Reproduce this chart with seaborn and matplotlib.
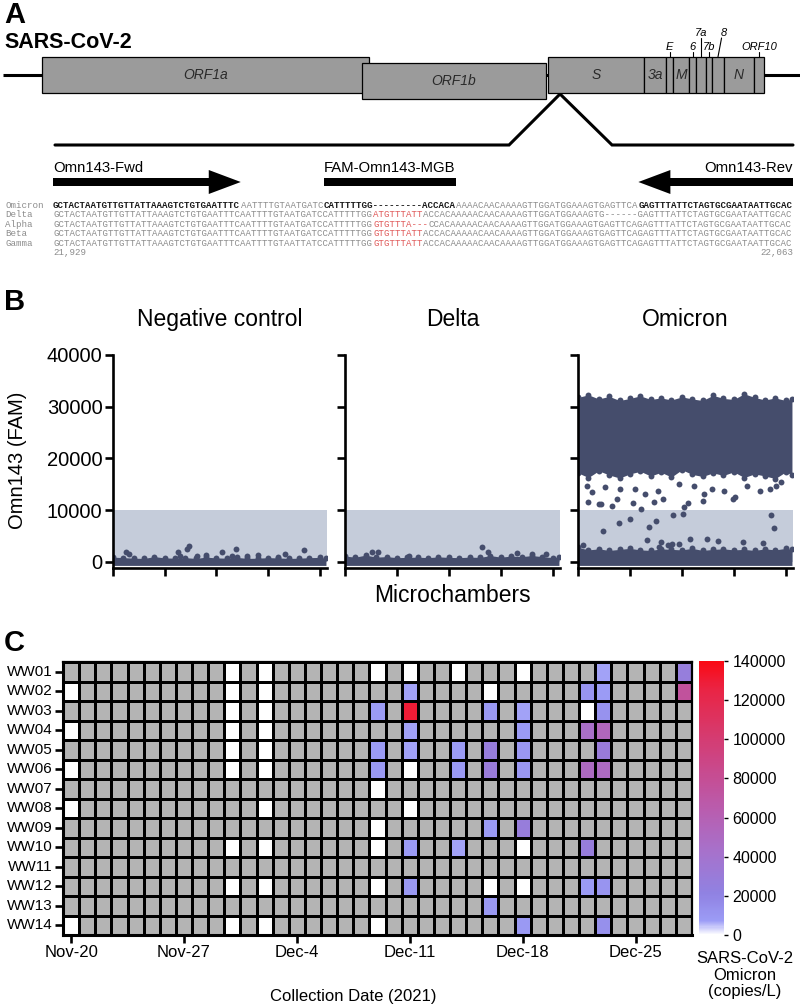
import numpy as np
import pandas as pd
import matplotlib
matplotlib.use("Agg")
import matplotlib.pyplot as plt
import seaborn as sns
from matplotlib.colors import LinearSegmentedColormap
from matplotlib.patches import Rectangle

# ---------------- A: genome map (schematic positions, nt) ----------------
GENOME_LEN = 29903
gene_names = ["ORF1a", "ORF1b", "S", "3a", "E", "M", "6", "7a", "7b", "8", "N", "ORF10"]
gene_start = [1460, 13470, 20450, 24050, 24880, 25140, 25740, 26000, 26380, 26600, 27050, 28180]
gene_end = [13730, 20370, 24050, 24880, 25140, 25740, 26000, 26380, 26600, 27050, 28180, 28550]
amplicon_map_pos = 20900
amplicon_first, amplicon_last = "21,929", "22,063"

# alignment segments: b = primer/probe (bold), g = grey, r = mismatch (red)
seq_names = ["Omicron", "Delta", "Alpha", "Beta", "Gamma"]
seq_omicron = [("GCTACTAATGTTGTTATTAAAGTCTGTGAATTTC", "b"), ("AATTTTGTAATGATC", "g"),
               ("CATTTTTGG---------ACCACA", "b"), ("AAAACAACAAAAGTTGGATGGAAAGTGAGTTCA", "g"),
               ("GAGTTTATTCTAGTGCGAATAATTGCAC", "b")]
seq_delta = [("GCTACTAATGTTGTTATTAAAGTCTGTGAATTTCAATTTTGTAATGATCCATTTTTGG", "g"), ("ATGTTTATT", "r"),
             ("ACCACAAAAACAACAAAAGTTGGATGGAAAGTG------GAGTTTATTCTAGTGCGAATAATTGCAC", "g")]
seq_alpha = [("GCTACTAATGTTGTTATTAAAGTCTGTGAATTTCAATTTTGTAATGATCCATTTTTGG", "g"), ("GTGTTTA---", "r"),
             ("CCACAAAAACAACAAAAGTTGGATGGAAAGTGAGTTCAGAGTTTATTCTAGTGCGAATAATTGCAC", "g")]
seq_beta = [("GCTACTAATGTTGTTATTAAAGTCTGTGAATTTCAATTTTGTAATGATCCATTTTTGG", "g"), ("GTGTTTATT", "r"),
            ("ACCACAAAAACAACAAAAGTTGGATGGAAAGTGAGTTCAGAGTTTATTCTAGTGCGAATAATTGCAC", "g")]
seq_gamma = [("GCTACTAATGTTGTTATTAAAGTCTGTGAATTTCAATTTTGTAATTATCCATTTTTGG", "g"), ("GTGTTTATT", "r"),
             ("ACCACAAAAACAACAAAAGTTGGATGGAAAGTGAGTTCAGAGTTTATTCTAGTGCGAATAATTGCAC", "g")]
seqs = [seq_omicron, seq_delta, seq_alpha, seq_beta, seq_gamma]

primer_names = ["Omn143-Fwd", "FAM-Omn143-MGB", "Omn143-Rev"]
primer_start = [0, 49, 106]   # alignment column
primer_end = [34, 73, 134]
primer_dir = [1, 0, -1]

# ---------------- B: microchamber fluorescence ----------------
THRESHOLD = 10000
band_x = [0, 5, 10, 15, 20, 25, 30, 35, 40, 45, 50, 55, 60, 65, 70, 75, 80, 85, 90, 95, 100, 103]
neg_base_top = [900, 800, 700, 650, 1000, 750, 700, 800, 650, 900, 750, 700, 850, 650, 700, 800, 750, 650, 700, 800, 850, 700]
delta_base_top = [1100, 900, 1300, 900, 1000, 800, 850, 900, 800, 950, 850, 800, 900, 850, 1200, 900, 1100, 1000, 1200, 1000, 800, 900]
omi_base_top = [2800, 2300, 2500, 2200, 2400, 2600, 2300, 2200, 2500, 2400, 2300, 2600, 2200, 2400, 2500, 2300, 2400, 2200, 2500, 2300, 2600, 2400]
omi_band_top = [31800, 32300, 31500, 32000, 31200, 31600, 32100, 31400, 31700, 31300, 31900, 31500, 31200, 32200, 31600, 31400, 32500, 31800, 31300, 31700, 31200, 31500]
omi_band_bot = [17200, 16300, 17600, 16800, 16200, 17000, 17500, 16600, 17300, 16400, 17800, 16900, 16500, 17200, 16700, 17400, 16300, 17000, 16600, 16100, 17400, 16800]

neg_x = [6.3, 7.7, 31.4, 32.4, 35.7, 36.7, 40.6, 44.9, 52.7, 57.5, 59.4, 64.7, 70.0, 79.7, 83.1, 92.3]
neg_y = [1950, 1600, 1950, 1200, 2500, 3100, 1200, 1350, 1800, 1200, 2500, 1200, 1350, 1000, 1600, 2200]
delta_x = [13.0, 15.9, 31.0, 65.9, 68.8, 83.0, 90.0, 97.0]
delta_y = [1800, 1800, 1200, 2900, 1950, 1700, 1600, 1600]
omi_x = [4.8, 11.1, 16.3, 26.4, 30.3, 36.5, 51.0, 52.9, 60.1, 74.5, 19.7, 25.0, 12.0, 34.1, 37.5, 45.7,
         50.5, 92.8, 94.2, 33.2, 39.9, 53.8, 62.0, 67.3, 79.3, 88.9, 43.3, 45.2, 48.6, 38.9, 2.4,
         4.3, 6.7, 13.0, 20.2, 18.8, 27.4, 32.2, 38.5, 40.9, 48.6, 55.8, 60.6, 64.4, 70.2, 75.5,
         81.3, 87.5, 92.3, 95.2, 97.6, 10.1]
omi_y = [11570, 11200, 10800, 11400, 10200, 11600, 10600, 11400, 11800, 12100, 7450, 8200, 5900, 6650, 7850, 9000,
         9200, 9000, 6470, 4300, 3900, 4500, 4500, 4100, 3900, 3700, 3300, 3500, 3500, 2900, 3300,
         14700, 13500, 14500, 14100, 12200, 14100, 13100, 13700, 12200, 15100, 14700, 13100, 14100, 13700, 12500,
         14700, 13700, 14100, 14700, 15500, 11200]

# ---------------- C: Omicron in wastewater ----------------
wells = ["WW01", "WW02", "WW03", "WW04", "WW05", "WW06", "WW07",
         "WW08", "WW09", "WW10", "WW11", "WW12", "WW13", "WW14"]
dates = pd.date_range("2021-11-20", "2021-12-28")
tick_dates = ["Nov-20", "Nov-27", "Dec-4", "Dec-11", "Dec-18", "Dec-25"]
no_sample = {
    "WW01": [10, 12, 19, 21, 24, 28], "WW02": [0, 10, 12, 26], "WW03": [10, 12, 32],
    "WW04": [0, 10, 12], "WW05": [10, 12], "WW06": [0, 10, 12, 21], "WW07": [19],
    "WW08": [0, 12, 21], "WW09": [19], "WW10": [10, 12, 19, 28], "WW11": [],
    "WW12": [10, 12, 19, 26, 28], "WW13": [], "WW14": [0, 10, 12, 19],
}
omicron_copies = {
    "WW01": {33: 7000, 38: 27000},
    "WW02": {21: 7000, 32: 12000, 33: 8000, 38: 75000},
    "WW03": {19: 8000, 21: 130000, 26: 9000, 28: 7000, 33: 13000},
    "WW04": {21: 7000, 28: 8000, 32: 45000, 33: 55000},
    "WW05": {19: 8000, 21: 7000, 24: 8000, 26: 28000, 28: 10000, 33: 30000},
    "WW06": {19: 9000, 24: 9000, 26: 30000, 28: 10000, 32: 50000, 33: 50000},
    "WW09": {26: 8000, 28: 28000},
    "WW10": {21: 8000, 24: 7000, 32: 28000},
    "WW12": {21: 9000, 32: 8000, 33: 12000},
    "WW13": {26: 9000},
    "WW14": {28: 9000, 33: 14000},
}

# ---------------- styling ----------------
W, H = 800, 1006
DOT = "#454d6c"
SHADE = "#c5ccda"
BOX = "#9b9b9b"
ND_GREY = "#b4b4b4"
SEQ_GREY = "#8c8c8c"
SEQ_RED = "#e05a5a"
MONO = "Liberation Mono"

sns.set_theme(style="ticks")
plt.rcParams["font.family"] = ["Liberation Sans", "DejaVu Sans"]
plt.rcParams["text.color"] = "black"
plt.rcParams["axes.labelcolor"] = "black"
plt.rcParams["xtick.color"] = "black"
plt.rcParams["ytick.color"] = "black"


def box(x0, y0, x1, y1):
    return [x0 / W, 1 - y1 / H, (x1 - x0) / W, (y1 - y0) / H]


fig = plt.figure(figsize=(W / 100, H / 100), dpi=100)

def ftext(x, y, s, **kw):
    kw.setdefault("ha", "left")
    kw.setdefault("va", "center")
    fig.text(x / W, 1 - y / H, s, **kw)

# overlay in pixel units for panel A annotations
ov = fig.add_axes([0, 0, 1, 1])
ov.set_xlim(0, W)
ov.set_ylim(H, 0)
ov.axis("off")
ov.patch.set_alpha(0)

for letter, y in [("A", 15), ("B", 302), ("C", 643)]:
    ftext(4, y, letter, fontsize=21, fontweight="bold")
ftext(4, 42, "SARS-CoV-2", fontsize=15.5, fontweight="bold")

# ---- genome map ----
GX0, GX1 = 3, 800
gx = fig.add_axes(box(GX0, 20, GX1, 160))
gx.set_xlim(0, GENOME_LEN)
gx.set_ylim(160, 20)
gx.axis("off")
gx.patch.set_alpha(0)
gx.plot([0, GENOME_LEN], [75, 75], color="black", lw=2.2, zorder=0, solid_capstyle="butt")
inside = {"ORF1a", "ORF1b", "S", "3a", "M", "N"}
outside = {"E": (0, 0), "6": (0, 0), "7a": (1, 0), "7b": (0, 0), "8": (1, 225), "ORF10": (0, 0)}
for name, s, e in zip(gene_names, gene_start, gene_end):
    y0 = 63 if name == "ORF1b" else 57
    gx.add_patch(Rectangle((s, y0), e - s, 36, facecolor=BOX, edgecolor="black", lw=0.9, zorder=1))
    cx = (s + e) / 2
    if name in inside:
        gx.text(cx, y0 + 18, name, ha="center", va="center", fontsize=10 if len(name) > 1 else 10,
                style="italic", color="#2a2a2a")
    else:
        tier, shift = outside[name]
        ly = 33 if tier else 47
        gx.text(cx + shift, ly, name, ha="center", va="center", fontsize=8, style="italic")
        gx.plot([cx + shift * 0.6, cx], [ly + 5, 57], color="black", lw=0.8)

# zoom-in lines to the amplicon
apex = GX0 + amplicon_map_pos / GENOME_LEN * (GX1 - GX0)
ALN_X0, ALN_X1 = 53, 793
ov.plot([ALN_X0 + 2, apex - 51, apex, apex + 52, ALN_X1], [145, 145, 94, 145, 145],
        color="black", lw=2.2, solid_joinstyle="miter")

# ---- primers and alignment ----
n_cols = sum(len(t) for t, _ in seq_omicron)
char_w = (ALN_X1 - ALN_X0) / n_cols
for name, s, e, d in zip(primer_names, primer_start, primer_end, primer_dir):
    x0, x1 = ALN_X0 + s * char_w, ALN_X0 + e * char_w
    if d == 1:
        ov.arrow(x0, 182, x1 - x0, 0, width=8, head_width=24, head_length=32,
                 length_includes_head=True, fc="black", ec="black", lw=0)
        ov.text(x0, 168, name, ha="left", va="center", fontsize=10.7)
    elif d == -1:
        ov.arrow(x1, 182, x0 - x1, 0, width=8, head_width=24, head_length=32,
                 length_includes_head=True, fc="black", ec="black", lw=0)
        ov.text(x1, 168, name, ha="right", va="center", fontsize=10.7)
    else:
        ov.add_patch(Rectangle((x0, 178), x1 - x0, 8, color="black", lw=0))
        ov.text((x0 + x1) / 2, 168, name, ha="center", va="center", fontsize=10.7)

ALN_Y0, ALN_DY = 205, 9.5
for r, (name, segs) in enumerate(zip(seq_names, seqs)):
    y = ALN_Y0 + r * ALN_DY
    ov.text(5, y, name, ha="left", va="center", fontsize=6.6, family=MONO, color=SEQ_GREY)
    i = 0
    for txt, style in segs:
        ov.text(ALN_X0 + i * char_w, y, txt, ha="left", va="center", fontsize=6.6, family=MONO,
                color={"b": "#1a1a1a", "g": SEQ_GREY, "r": SEQ_RED}[style],
                fontweight="bold" if style == "b" else "normal")
        i += len(txt)
y_num = ALN_Y0 + len(seqs) * ALN_DY
ov.text(ALN_X0, y_num, amplicon_first, ha="left", va="center", fontsize=6.6, family=MONO, color=SEQ_GREY)
ov.text(ALN_X1, y_num, amplicon_last, ha="right", va="center", fontsize=6.6, family=MONO, color=SEQ_GREY)

# ---------------- B ----------------
b_boxes = [(113, 327), (345, 560), (578, 793)]
b_titles = ["Negative control", "Delta", "Omicron"]
b_base = [neg_base_top, delta_base_top, omi_base_top]
b_pts = [(neg_x, neg_y), (delta_x, delta_y), (omi_x, omi_y)]
for k, ((x0, x1), title, base_top, (px, py)) in enumerate(zip(b_boxes, b_titles, b_base, b_pts)):
    ax = fig.add_axes(box(x0, 355, x1, 568))
    ax.axhspan(0, THRESHOLD, color=SHADE, lw=0, zorder=0)
    ax.fill_between(band_x, -700, base_top, color=DOT, lw=0, zorder=1)
    sns.scatterplot(x=band_x, y=base_top, ax=ax, color=DOT, s=18, linewidth=0, zorder=2, legend=False)
    if title == "Omicron":
        ax.fill_between(band_x, omi_band_bot, omi_band_top, color=DOT, lw=0, zorder=1)
        sns.scatterplot(x=band_x + band_x, y=omi_band_top + omi_band_bot, ax=ax, color=DOT,
                        s=18, linewidth=0, zorder=2, legend=False)
    sns.scatterplot(x=px, y=py, ax=ax, color=DOT, s=18, linewidth=0, zorder=3, legend=False)
    ax.set_xlim(0, 103.5)
    ax.set_ylim(-1200, 40000)
    ax.set_xticks([0, 25, 50, 75, 100])
    ax.set_xticklabels([])
    ax.set_yticks([0, 10000, 20000, 30000, 40000])
    if k == 0:
        ax.set_yticklabels(["0", "10000", "20000", "30000", "40000"], fontsize=14.5)
    else:
        ax.set_yticklabels([])
    ax.set_xlabel("")
    ax.set_ylabel("")
    ax.patch.set_alpha(0)
    for side in ["top", "right"]:
        ax.spines[side].set_visible(False)
    for side in ["left", "bottom"]:
        ax.spines[side].set_linewidth(1.9)
        ax.spines[side].set_color("black")
    ax.tick_params(length=5.5, width=1.9, pad=2)
    ax.set_title(title, fontsize=16.5, pad=21)
ftext(18, 460, "Omn143 (FAM)", fontsize=14.5, rotation=90, ha="center")
ftext(452, 595, "Microchambers", fontsize=16.5, ha="center")

# ---------------- C ----------------
grid = pd.DataFrame(-1.0, index=wells, columns=range(len(dates)))
for w in wells:
    for c in no_sample[w]:
        grid.loc[w, c] = np.nan
    for c, v in omicron_copies.get(w, {}).items():
        grid.loc[w, c] = v

cmap = LinearSegmentedColormap.from_list("omi", [
    (0.0, "#ffffff"), (0.05, "#9c9cf6"), (0.15, "#9082e2"), (0.3, "#a672cc"), (0.45, "#b85eb0"),
    (0.6, "#c84a8e"), (0.75, "#d8386a"), (0.9, "#ea2444"), (1.0, "#fa0a14")])
cmap.set_under(ND_GREY)
cmap.set_bad("white")

axc = fig.add_axes(box(63, 662, 692, 935))
cax = fig.add_axes(box(699, 661, 724, 935))
sns.heatmap(grid, ax=axc, cbar_ax=cax, cmap=cmap, vmin=0, vmax=140000,
            linewidths=1.0, linecolor="black", xticklabels=False, yticklabels=True,
            cbar_kws={"ticks": [0, 20000, 40000, 60000, 80000, 100000, 120000, 140000]})
axc.set_facecolor("white")
date_labels = [f"{d:%b}-{d.day}" for d in dates]
tick_idx = [date_labels.index(t) for t in tick_dates]
axc.set_xticks([i + 0.5 for i in tick_idx])
axc.set_xticklabels(tick_dates, fontsize=12, rotation=0)
axc.set_yticklabels(wells, fontsize=11, rotation=0)
axc.set_xlabel("")
axc.set_ylabel("")
for side, sp in axc.spines.items():
    sp.set_visible(True)
    sp.set_color("black")
    sp.set_linewidth(2.2 if side in ("left", "bottom") else 1.6)
axc.tick_params(length=5.5, width=1.9, pad=2, bottom=True, left=True)
ftext(353, 997, "Collection Date (2021)", fontsize=12, ha="center")

cax.tick_params(labelsize=11.5, length=3, width=1, pad=3, right=True)
cax.yaxis.set_major_formatter(matplotlib.ticker.FuncFormatter(lambda v, p: f"{v:.0f}"))
ftext(745, 975, "SARS-CoV-2\nOmicron\n(copies/L)", fontsize=12, ha="center", linespacing=1.15)

fig.savefig("out.png", dpi=100)
